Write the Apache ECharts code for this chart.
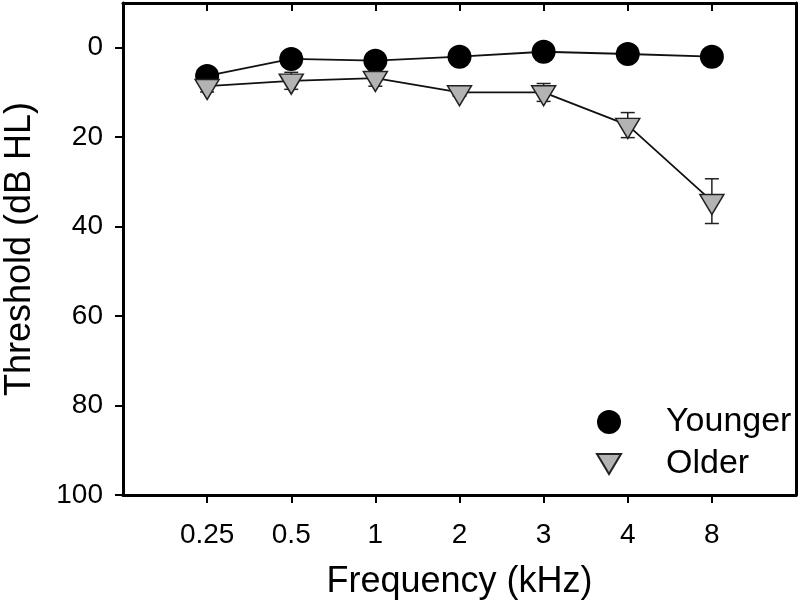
<!DOCTYPE html>
<html>
<head>
<meta charset="utf-8">
<script src="https://cdn.jsdelivr.net/npm/echarts@6/dist/echarts.min.js"></script>
<style>html,body{margin:0;padding:0;background:#fff;}#c{width:800px;height:609px;}</style>
</head>
<body>
<div id="c"></div>
<script>
const categories = ['0.25', '0.5', '1', '2', '3', '4', '8'];
const youngerValues = [6.3, 2.5, 2.9, 2.0, 0.9, 1.4, 2.0];
const olderValues = [8.6, 7.4, 6.8, 10.0, 10.0, 17.3, 34.3];
const olderErrors = [1.3, 1.9, 1.8, 0.8, 2.0, 2.8, 5.0];
const yTickStep = 20;

const FONT = "'Liberation Sans', Arial, sans-serif";
const triPath = 'path://M0,0L24,0L12,20Z';
const boxLine = {show: true, onZero: false, lineStyle: {color: '#000', width: 3}};
const noLine = {show: false, onZero: false};
const tickStyle = {color: '#000', width: 2};

// main plot area
const G = {left: 123, right: 4, top: 3, bottom: 114};
const W = 800 - G.left - G.right, H = 609 - G.top - G.bottom;
const xMin = -1, xMax = 7, yMin = -10, yMax = 100;
const pxX = W / (xMax - xMin), pxY = H / (yMax - yMin);
const n = categories.length;

const chart = echarts.init(document.getElementById('c'), null, {renderer: 'canvas'});
chart.setOption({
  animation: false,
  backgroundColor: '#fff',
  grid: [
    Object.assign({containLabel: false, outerBoundsMode: 'none', show: false}, G),
    {containLabel: false, outerBoundsMode: 'none', show: false,
      left: G.left + (0 - xMin) * pxX, right: G.right + (xMax - (n - 1)) * pxX, top: G.top, bottom: G.bottom},
    {containLabel: false, outerBoundsMode: 'none', show: false,
      left: G.left, right: G.right, top: G.top - (yMin + yTickStep) * pxY, bottom: G.bottom}
  ],
  xAxis: [{
    gridIndex: 0, type: 'value', min: xMin, max: xMax, position: 'bottom',
    name: 'Frequency (kHz)', nameLocation: 'middle', nameGap: 69,
    nameTextStyle: {fontFamily: FONT, fontSize: 36, color: '#000'},
    axisLine: boxLine, axisTick: {show: false}, axisLabel: {show: false}, splitLine: {show: false}
  }, {
    gridIndex: 0, type: 'value', min: xMin, max: xMax, position: 'top',
    axisLine: boxLine, axisTick: {show: false}, axisLabel: {show: false}, splitLine: {show: false}
  }, {
    gridIndex: 1, type: 'value', min: 0, max: n - 1, interval: 1, position: 'bottom',
    axisLine: noLine,
    axisTick: {show: true, inside: false, length: 8, lineStyle: tickStyle},
    axisLabel: {fontFamily: FONT, fontSize: 28, color: '#000', margin: 26,
      formatter: v => categories[Math.round(v)] || ''},
    splitLine: {show: false}
  }, {
    gridIndex: 1, type: 'value', min: 0, max: n - 1, interval: 1, position: 'top',
    axisLine: noLine,
    axisTick: {show: true, inside: true, length: 8, lineStyle: tickStyle},
    axisLabel: {show: false}, splitLine: {show: false}
  }, {
    gridIndex: 2, type: 'value', show: false
  }],
  yAxis: [{
    gridIndex: 0, type: 'value', min: yMin, max: yMax, inverse: true, position: 'left',
    name: 'Threshold (dB HL)', nameLocation: 'middle', nameGap: 85,
    nameTextStyle: {fontFamily: FONT, fontSize: 36, color: '#000'},
    axisLine: boxLine, axisTick: {show: false}, axisLabel: {show: false}, splitLine: {show: false}
  }, {
    gridIndex: 0, type: 'value', min: yMin, max: yMax, inverse: true, position: 'right',
    axisLine: boxLine, axisTick: {show: false}, axisLabel: {show: false}, splitLine: {show: false}
  }, {
    gridIndex: 1, type: 'value', show: false
  }, {
    gridIndex: 2, type: 'value', min: yMin - (yTickStep + yMin), max: yMax, interval: yTickStep, inverse: true, position: 'left',
    axisLine: noLine,
    axisTick: {show: true, inside: false, length: 8, lineStyle: tickStyle},
    axisLabel: {fontFamily: FONT, fontSize: 28, color: '#000', margin: 20,
      formatter: v => (v < 0 ? '' : String(v))},
    splitLine: {show: false}
  }],
  legend: {
    orient: 'vertical', left: 591, top: 400, itemWidth: 24, itemHeight: 24, itemGap: 8,
    textStyle: {fontFamily: FONT, fontSize: 34, color: '#000', padding: [0, 0, 0, 40]},
    data: [{name: 'Younger', icon: 'circle'}, {name: 'Older', icon: triPath}]
  },
  series: [
    {
      type: 'custom', name: 'OlderErr', z: 1, silent: true, xAxisIndex: 0, yAxisIndex: 0,
      data: olderValues.map((v, i) => [i, v, olderErrors[i]]),
      renderItem: function (params, api) {
        const x = api.value(0), y = api.value(1), e = api.value(2);
        const top = api.coord([x, y - e]);
        const bot = api.coord([x, y + e]);
        const hw = 7;
        const st = {stroke: '#222', lineWidth: 1.5};
        return {type: 'group', children: [
          {type: 'line', shape: {x1: top[0], y1: top[1], x2: bot[0], y2: bot[1]}, style: st},
          {type: 'line', shape: {x1: top[0] - hw, y1: top[1], x2: top[0] + hw, y2: top[1]}, style: st},
          {type: 'line', shape: {x1: bot[0] - hw, y1: bot[1], x2: bot[0] + hw, y2: bot[1]}, style: st}
        ]};
      }
    },
    {
      type: 'line', name: 'Younger', z: 3, xAxisIndex: 0, yAxisIndex: 0,
      data: youngerValues.map((v, i) => [i, v]),
      symbol: 'circle', symbolSize: 24,
      lineStyle: {color: '#111', width: 1.8},
      itemStyle: {color: '#000', borderColor: '#000', borderWidth: 0}
    },
    {
      type: 'line', name: 'Older', z: 4, xAxisIndex: 0, yAxisIndex: 0,
      data: olderValues.map((v, i) => [i, v]),
      symbol: triPath, symbolSize: [24, 20], symbolOffset: [0, 3.33], symbolKeepAspect: false,
      lineStyle: {color: '#111', width: 1.8},
      itemStyle: {color: '#b3b3b3', borderColor: '#222', borderWidth: 1.5}
    }
  ]
});
</script>
</body>
</html>
